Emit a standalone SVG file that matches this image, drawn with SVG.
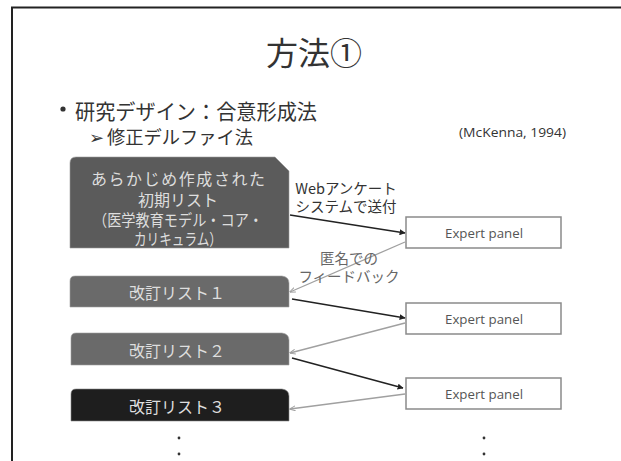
<svg xmlns="http://www.w3.org/2000/svg" width="621" height="461" viewBox="0 0 621 461">
<defs>
<style>
.jp{font-family:"Noto Sans CJK JP","Noto Sans",sans-serif;}
.lat{font-family:"Open Sans","Noto Sans","Noto Sans CJK JP",sans-serif;}
.box-t{fill:#dedede;font-size:16px;text-anchor:middle;dominant-baseline:central;}
.ep rect{fill:#fff;stroke:#8a8a8a;stroke-width:1.5;}
.ep text{fill:#555;font-size:13.5px;text-anchor:middle;dominant-baseline:central;}
.blk{stroke:#222;stroke-width:1.6;fill:none;marker-end:url(#ab);}
.gry{stroke:#a0a0a0;stroke-width:1.3;fill:none;marker-end:url(#ag);}
</style>
<marker id="ab" viewBox="0 0 10 10" refX="9" refY="5" markerWidth="6" markerHeight="6" markerUnits="userSpaceOnUse" orient="auto"><path d="M0,0 L10,5 L0,10 z" fill="#222"/></marker>
<marker id="ag" viewBox="0 0 10 10" refX="9" refY="5" markerWidth="6" markerHeight="6" markerUnits="userSpaceOnUse" orient="auto"><path d="M0,1 L10,5 L0,9" fill="none" stroke="#a0a0a0" stroke-width="1.6"/></marker>
</defs>
<rect x="0" y="0" width="621" height="461" fill="#fff"/>
<path d="M12,461 L12,7.5 L621,7.5" fill="none" stroke="#222" stroke-width="2"/>
<g id="title"><text class="jp" x="314" y="51" font-size="32" fill="#333" text-anchor="middle" dominant-baseline="central">方法①</text></g>
<g id="bullets">
<circle cx="63" cy="109" r="2.6" fill="#333"/>
<text class="jp" x="75" y="110" font-size="21" fill="#333" dominant-baseline="central" textLength="242" lengthAdjust="spacingAndGlyphs">研究デザイン：合意形成法</text>
<text class="jp" x="89" y="136" font-size="18" fill="#333" dominant-baseline="central">➢</text>
<text class="jp" x="107" y="136" font-size="18.5" fill="#333" dominant-baseline="central" textLength="146" lengthAdjust="spacingAndGlyphs">修正デルファイ法</text>
<text class="lat" x="459" y="132" font-size="12.5" fill="#333" dominant-baseline="central" textLength="107" lengthAdjust="spacingAndGlyphs">(McKenna, 1994)</text>
</g>
<g id="initial-list">
<path d="M70,163 Q70,157 76,157 L275,157 L289,171 L289,248 L70,248 Z" fill="#5b5b5b" stroke="#9a9a9a" stroke-width="0.6"/>
<text class="jp box-t" x="178" y="178" textLength="174" lengthAdjust="spacing">あらかじめ作成された</text>
<text class="jp box-t" x="178" y="199">初期リスト</text>
<text class="jp box-t" x="178" y="219" font-size="15" textLength="170" lengthAdjust="spacingAndGlyphs">（医学教育モデル・コア・</text>
<text class="jp box-t" x="178" y="238" font-size="15" textLength="88" lengthAdjust="spacingAndGlyphs">カリキュラム）</text>
</g>
<g id="rev1">
<path d="M70,281 Q70,276 75,276 L282,276 Q289,277 289,283 L289,307 L70,307 Z" fill="#6a6a6a" stroke="#a0a0a0" stroke-width="0.6"/>
<text class="jp box-t" x="177" y="292">改訂リスト１</text>
</g>
<g id="rev2">
<path d="M71,338 Q71,333 76,333 L282,333 Q289,334 289,340 L289,365 L71,365 Z" fill="#6a6a6a" stroke="#a0a0a0" stroke-width="0.6"/>
<text class="jp box-t" x="177" y="350">改訂リスト２</text>
</g>
<g id="rev3">
<path d="M71,394 Q71,389 76,389 L282,389 Q289,390 289,396 L289,421 L71,421 Z" fill="#1e1e1e" stroke="#888" stroke-width="0.6"/>
<text class="jp box-t" x="177" y="406">改訂リスト３</text>
</g>
<g id="ep1" class="ep"><rect x="406" y="217" width="155" height="31"/><text class="lat" x="484" y="233" textLength="78" lengthAdjust="spacingAndGlyphs">Expert panel</text></g>
<g id="ep2" class="ep"><rect x="406" y="303" width="155" height="31"/><text class="lat" x="484" y="319" textLength="78" lengthAdjust="spacingAndGlyphs">Expert panel</text></g>
<g id="ep3" class="ep"><rect x="406" y="378" width="155" height="31"/><text class="lat" x="484" y="394" textLength="78" lengthAdjust="spacingAndGlyphs">Expert panel</text></g>
<g id="connectors">
<path class="blk" d="M290,215 L405,233"/>
<path class="gry" d="M405,242 L290,292"/>
<path class="blk" d="M292,299 L405,318"/>
<path class="gry" d="M405,323 L290,353"/>
<path class="blk" d="M292,358 L403,388"/>
<path class="gry" d="M405,394 L290,409"/>
</g>
<g id="labels">
<text class="jp" x="346" y="187" font-size="14.5" fill="#333" text-anchor="middle" dominant-baseline="central">Webアンケート</text>
<text class="jp" x="346" y="205" font-size="14.5" fill="#333" text-anchor="middle" dominant-baseline="central">システムで送付</text>
<text class="jp" x="349" y="257" font-size="14.5" fill="#666" text-anchor="middle" dominant-baseline="central">匿名での</text>
<text class="jp" x="349" y="275" font-size="14.5" fill="#666" text-anchor="middle" dominant-baseline="central">フィードバック</text>
</g>
<g id="dots" fill="#333">
<circle cx="179" cy="438" r="1.4"/><circle cx="179" cy="454" r="1.4"/>
<circle cx="484" cy="438" r="1.4"/><circle cx="484" cy="454" r="1.4"/>
</g>
</svg>
